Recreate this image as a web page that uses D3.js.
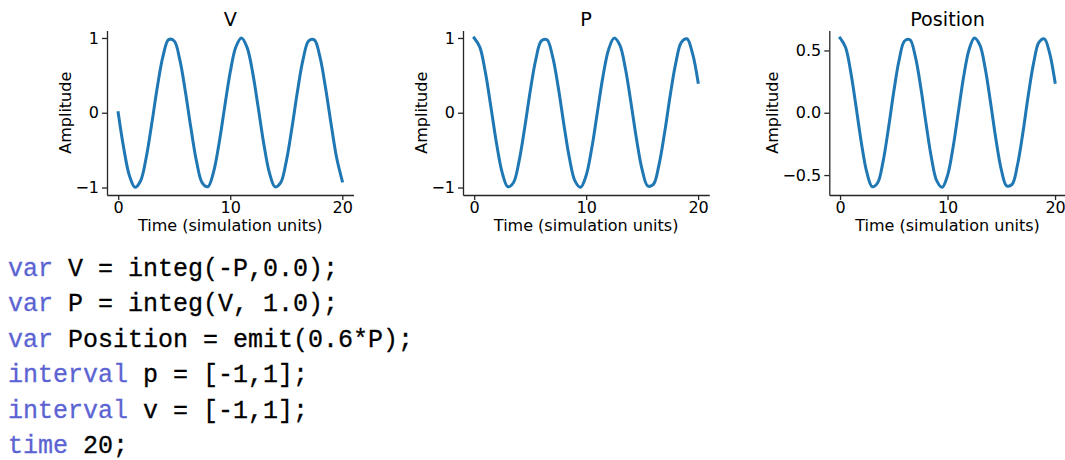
<!DOCTYPE html>
<html lang="en">
<head>
    <meta charset="UTF-8">
    <title>Oscillator simulation</title>
    <script src="https://d3js.org/d3.v7.min.js"></script>
    <style>
        body { margin: 0; background: #fff; }
        svg { display: block; }
        .tick text { font-family: "DejaVu Sans", sans-serif; font-size: 16px; fill: #000; }
        .label { font-family: "DejaVu Sans", sans-serif; font-size: 16px; fill: #000; }
        .title { font-family: "DejaVu Sans", sans-serif; font-size: 19.2px; fill: #000; }
        .code { font-family: "Liberation Mono", monospace; font-size: 25px; fill: #000; stroke: #000; stroke-width: 0.3; }
        .kw { fill: #5b64d2; stroke: #5b64d2; }
    </style>
</head>
<body>
    <svg id="chart" width="1065" height="460"></svg>

    <script>
        // sample times and simulated outputs
        const times = [0, 0.5, 1, 1.5, 2, 2.5, 3, 3.5, 4, 4.5, 5, 5.5, 6, 6.5, 7, 7.5, 8, 8.5, 9, 9.5,
            10, 10.5, 11, 11.5, 12, 12.5, 13, 13.5, 14, 14.5, 15, 15.5, 16, 16.5, 17, 17.5, 18, 18.5, 19, 19.5, 20];
        const vValues = [0, -0.479, -0.841, -0.997, -0.909, -0.598, -0.141, 0.351, 0.757, 0.978,
            0.959, 0.706, 0.279, -0.215, -0.657, -0.938, -0.989, -0.798, -0.412, 0.075,
            0.544, 0.880, 1.000, 0.875, 0.537, 0.066, -0.420, -0.804, -0.991, -0.935,
            -0.650, -0.207, 0.288, 0.713, 0.961, 0.975, 0.751, 0.339, -0.150, -0.606, -0.913];
        const pValues = [1.000, 0.878, 0.540, 0.071, -0.416, -0.801, -0.990, -0.936, -0.654, -0.211,
            0.284, 0.709, 0.960, 0.977, 0.754, 0.347, -0.146, -0.602, -0.911, -0.997,
            -0.839, -0.476, 0.004, 0.483, 0.844, 0.998, 0.907, 0.595, 0.137, -0.354,
            -0.760, -0.979, -0.958, -0.701, -0.275, 0.224, 0.660, 0.941, 0.989, 0.795, 0.408];
        const positionValues = [0.600, 0.527, 0.324, 0.042, -0.250, -0.481, -0.594, -0.562, -0.392, -0.126,
            0.170, 0.425, 0.576, 0.586, 0.452, 0.208, -0.087, -0.361, -0.547, -0.598,
            -0.503, -0.285, 0.003, 0.290, 0.506, 0.599, 0.544, 0.357, 0.082, -0.213,
            -0.456, -0.587, -0.575, -0.421, -0.165, 0.134, 0.396, 0.565, 0.593, 0.477, 0.245];

        const xTicks = [0, 10, 20];
        const unitTicks = [-1, 0, 1];
        const positionTicks = [-0.5, 0, 0.5];

        // model source shown under the plots: [keyword, rest of line]
        const codeLines = [
            ["var", " V = integ(-P,0.0);"],
            ["var", " P = integ(V, 1.0);"],
            ["var", " Position = emit(0.6*P);"],
            ["interval", " p = [-1,1];"],
            ["interval", " v = [-1,1];"],
            ["time", " 20;"]
        ];

        const panels = [
            { title: "V", values: vValues, left: 107, right: 353.5, yDomain: [-1.1, 1.1], ticks: unitTicks, fmt: d3.format("d"), labelX: 71 },
            { title: "P", values: pValues, left: 463, right: 709.3, yDomain: [-1.1, 1.1], ticks: unitTicks, fmt: d3.format("d"), labelX: 427 },
            { title: "Position", values: positionValues, left: 829.3, right: 1065.8, yDomain: [-0.66, 0.66], ticks: positionTicks, fmt: d3.format(".1f"), labelX: 778 }
        ];
        const plotTop = 30.5, plotBottom = 195;

        const svg = d3.select("#chart");

        panels.forEach(p => {
            const x = d3.scaleLinear().domain([-1, 21]).range([p.left, p.right]);
            const y = d3.scaleLinear().domain(p.yDomain).range([plotBottom, plotTop]);
            const g = svg.append("g");

            const line = d3.line().x((d, i) => x(times[i])).y(d => y(d)).curve(d3.curveCatmullRom);
            g.append("path").datum(p.values).attr("d", line)
                .attr("fill", "none").attr("stroke", "#1f77b4").attr("stroke-width", 3)
                .attr("stroke-linecap", "square");

            const xAxis = g.append("g").attr("transform", `translate(0,${plotBottom})`)
                .call(d3.axisBottom(x).tickValues(xTicks).tickSize(5).tickSizeOuter(0).tickPadding(2));
            const yAxis = g.append("g").attr("transform", `translate(${p.left},0)`)
                .call(d3.axisLeft(y).tickValues(p.ticks).tickSize(5).tickSizeOuter(0).tickPadding(3)
                    .tickFormat(d => p.fmt(d)));
            [xAxis, yAxis].forEach(a => {
                a.attr("font-family", null).attr("font-size", null);
                a.select(".domain").attr("stroke", "#262626").attr("stroke-width", 1.3);
                a.selectAll(".tick line").attr("stroke", "#262626").attr("stroke-width", 1.3);
            });

            g.append("text").attr("class", "title")
                .attr("x", (p.left + p.right) / 2).attr("y", 26)
                .attr("text-anchor", "middle").text(p.title);
            g.append("text").attr("class", "label")
                .attr("x", (p.left + p.right) / 2).attr("y", 231)
                .attr("text-anchor", "middle").text("Time (simulation units)");
            g.append("text").attr("class", "label")
                .attr("transform", `translate(${p.labelX},${(plotTop + plotBottom) / 2}) rotate(-90)`)
                .attr("text-anchor", "middle").text("Amplitude");
        });

        // code listing
        const code = svg.append("g");
        codeLines.forEach((c, i) => {
            const t = code.append("text").attr("class", "code")
                .attr("x", 8).attr("y", 275.5 + i * 35.5).attr("xml:space", "preserve");
            t.append("tspan").attr("class", "kw").text(c[0]);
            t.append("tspan").text(c[1]);
        });
    </script>
</body>
</html>
